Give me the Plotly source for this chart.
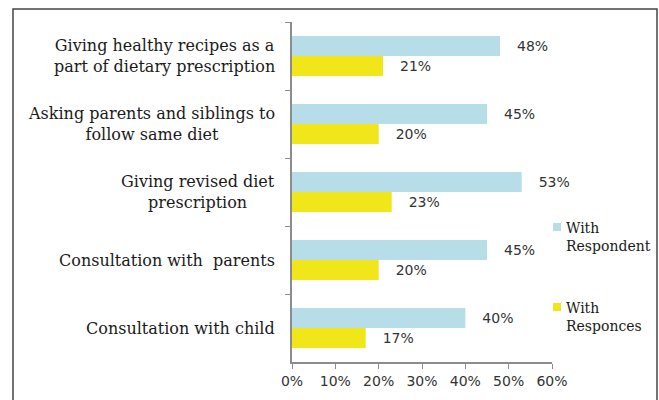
import plotly.graph_objects as go

categories = [
    "Giving healthy recipes as a<br>part of dietary prescription",
    "Asking parents and siblings to<br>follow same diet",
    "Giving revised diet<br>prescription",
    "Consultation with  parents",
    "Consultation with child",
]
respondent = [48, 45, 53, 45, 40]
responces = [21, 20, 23, 20, 17]
series_names = ["With<br>Respondent", "With<br>Responces"]
x_ticks = [0, 10, 20, 30, 40, 50, 60]

BLUE = "#b7dde8"
YELLOW = "#f0e619"
SP = "\u2002\u2002"

fig = go.Figure()
fig.add_trace(go.Bar(
    y=categories, x=respondent, orientation="h", name=series_names[0],
    marker=dict(color=BLUE, line=dict(width=0)),
    text=[f"{SP}{v}%" for v in respondent], textposition="outside",
    textfont=dict(family="DejaVu Sans", size=14, color="#333"), cliponaxis=False,
))
fig.add_trace(go.Bar(
    y=categories, x=responces, orientation="h", name=series_names[1],
    marker=dict(color=YELLOW, line=dict(width=0)),
    text=[f"{SP}{v}%" for v in responces], textposition="outside",
    textfont=dict(family="DejaVu Sans", size=14, color="#333"), cliponaxis=False,
))

L, R, T, B = 292, 107, 22, 38
W, H = 659, 400
pw, ph = W - L - R, H - T - B

def px_x(px):
    return (px - L) / pw

def px_y(py):
    return (H - B - py) / ph

annotations = []
for c in categories:
    annotations.append(dict(
        text=c, xref="paper", yref="y", x=px_x(277), y=c, xanchor="right",
        yanchor="middle", align="center", showarrow=False,
        font=dict(family="DejaVu Serif", size=16, color="#1a1a1a"),
    ))

# manual legend
legend_colors = [BLUE, YELLOW]
legend_tops = [218, 298]
shapes = []
for name, col, top in zip(series_names, legend_colors, legend_tops):
    shapes.append(dict(type="rect", xref="paper", yref="paper",
                       x0=px_x(553), x1=px_x(561), y0=px_y(top + 13), y1=px_y(top + 5),
                       line=dict(width=0), fillcolor=col))
    annotations.append(dict(
        text=name, xref="paper", yref="paper", x=px_x(564), y=px_y(top),
        xanchor="left", yanchor="top", align="left", showarrow=False,
        font=dict(family="DejaVu Serif", size=14, color="#1a1a1a"),
    ))

shapes.append(dict(type="rect", xref="paper", yref="paper",
                   x0=px_x(13), x1=px_x(657), y0=px_y(420), y1=px_y(9),
                   line=dict(color="#444", width=1.5), fillcolor="rgba(0,0,0,0)",
                   layer="below"))

fig.update_layout(
    width=W, height=H, margin=dict(l=L, r=R, t=T, b=B, autoexpand=False),
    paper_bgcolor="white", plot_bgcolor="white",
    barmode="group", bargap=0.41, bargroupgap=0,
    showlegend=False,
    xaxis=dict(range=[0, 60], tickvals=x_ticks, ticktext=[f"{v}%" for v in x_ticks],
               showgrid=False,
               showline=True, linecolor="#8c8c8c", linewidth=2, ticks="outside",
               ticklen=5, tickcolor="#8c8c8c", zeroline=False,
               tickfont=dict(family="DejaVu Sans", size=14, color="#333")),
    yaxis=dict(autorange="reversed", showticklabels=False, showgrid=False,
               showline=True, linecolor="#8c8c8c", linewidth=2, ticks="outside",
               ticklen=5, tickcolor="#8c8c8c", tickson="boundaries"),
    annotations=annotations,
    shapes=shapes,
)

fig.write_html("out.html", config={"displayModeBar": False},
               post_script="document.body.style.margin='0';")
